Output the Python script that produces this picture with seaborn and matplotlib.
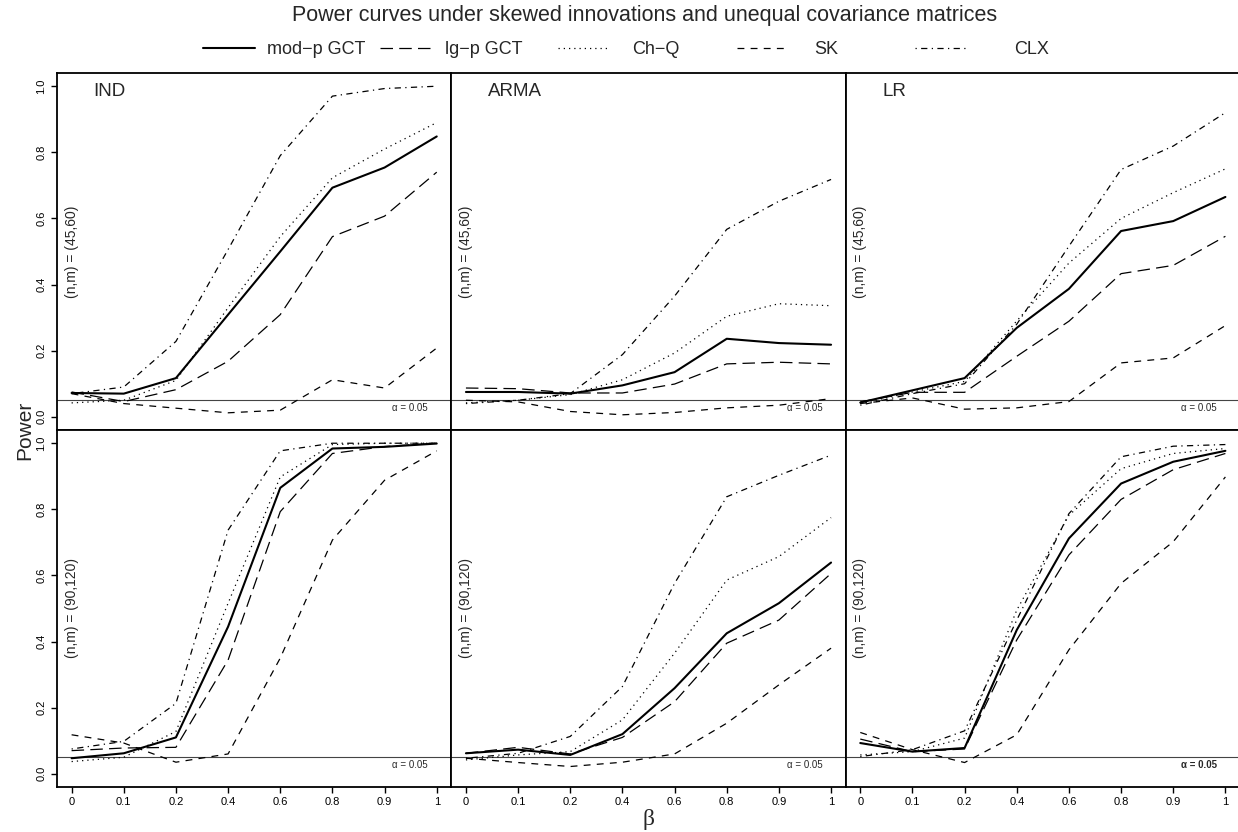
import numpy as np
import pandas as pd
import matplotlib
matplotlib.use("Agg")
import matplotlib.pyplot as plt
import seaborn as sns
from matplotlib.lines import Line2D

# ---------------- data ----------------
beta_labels = ["0", "0.1", "0.2", "0.4", "0.6", "0.8", "0.9", "1"]
methods = ["mod\u2212p GCT", "lg\u2212p GCT", "Ch\u2212Q", "SK", "CLX"]
structures = ["IND", "ARMA", "LR"]
size_labels = ["(n,m) = (45,60)", "(n,m) = (90,120)"]

# (n,m) = (45,60)
ind_45_modp = [0.072, 0.070, 0.117, 0.309, 0.500, 0.693, 0.754, 0.848]
ind_45_lgp  = [0.075, 0.046, 0.082, 0.168, 0.309, 0.545, 0.607, 0.740]
ind_45_chq  = [0.042, 0.050, 0.110, 0.330, 0.545, 0.723, 0.810, 0.890]
ind_45_sk   = [0.070, 0.040, 0.026, 0.012, 0.020, 0.112, 0.087, 0.208]
ind_45_clx  = [0.070, 0.090, 0.228, 0.506, 0.790, 0.970, 0.993, 1.000]

arma_45_modp = [0.075, 0.075, 0.070, 0.095, 0.135, 0.236, 0.223, 0.218]
arma_45_lgp  = [0.087, 0.085, 0.072, 0.072, 0.099, 0.160, 0.165, 0.160]
arma_45_chq  = [0.042, 0.050, 0.067, 0.112, 0.193, 0.304, 0.342, 0.336]
arma_45_sk   = [0.050, 0.045, 0.016, 0.006, 0.013, 0.027, 0.035, 0.055]
arma_45_clx  = [0.040, 0.050, 0.070, 0.188, 0.365, 0.567, 0.652, 0.718]

lr_45_modp = [0.043, 0.080, 0.117, 0.269, 0.387, 0.562, 0.592, 0.665]
lr_45_lgp  = [0.045, 0.074, 0.074, 0.183, 0.289, 0.433, 0.458, 0.546]
lr_45_chq  = [0.040, 0.075, 0.107, 0.290, 0.465, 0.600, 0.678, 0.750]
lr_45_sk   = [0.040, 0.057, 0.023, 0.027, 0.046, 0.163, 0.178, 0.276]
lr_45_clx  = [0.035, 0.070, 0.100, 0.280, 0.516, 0.748, 0.819, 0.920]

# (n,m) = (90,120)
ind_90_modp = [0.047, 0.062, 0.110, 0.445, 0.865, 0.984, 0.989, 0.999]
ind_90_lgp  = [0.070, 0.078, 0.080, 0.344, 0.793, 0.969, 0.990, 1.000]
ind_90_chq  = [0.037, 0.050, 0.128, 0.516, 0.898, 0.996, 1.000, 1.000]
ind_90_sk   = [0.118, 0.093, 0.035, 0.060, 0.350, 0.707, 0.888, 0.977]
ind_90_clx  = [0.075, 0.098, 0.213, 0.737, 0.977, 1.000, 1.000, 1.000]

arma_90_modp = [0.062, 0.073, 0.057, 0.120, 0.259, 0.425, 0.516, 0.639]
arma_90_lgp  = [0.062, 0.080, 0.060, 0.110, 0.218, 0.395, 0.465, 0.606]
arma_90_chq  = [0.042, 0.057, 0.067, 0.163, 0.365, 0.586, 0.657, 0.775]
arma_90_sk   = [0.047, 0.034, 0.022, 0.035, 0.060, 0.153, 0.269, 0.380]
arma_90_clx  = [0.047, 0.062, 0.113, 0.264, 0.576, 0.838, 0.903, 0.964]

lr_90_modp = [0.093, 0.067, 0.078, 0.435, 0.712, 0.878, 0.944, 0.977]
lr_90_lgp  = [0.105, 0.067, 0.075, 0.405, 0.662, 0.830, 0.920, 0.969]
lr_90_chq  = [0.057, 0.067, 0.108, 0.495, 0.782, 0.923, 0.969, 0.984]
lr_90_sk   = [0.125, 0.073, 0.034, 0.118, 0.375, 0.576, 0.702, 0.898]
lr_90_clx  = [0.052, 0.073, 0.130, 0.465, 0.787, 0.959, 0.991, 0.996]

alpha_level = 0.05

panels = {
    (0, "IND"):  [ind_45_modp, ind_45_lgp, ind_45_chq, ind_45_sk, ind_45_clx],
    (0, "ARMA"): [arma_45_modp, arma_45_lgp, arma_45_chq, arma_45_sk, arma_45_clx],
    (0, "LR"):   [lr_45_modp, lr_45_lgp, lr_45_chq, lr_45_sk, lr_45_clx],
    (1, "IND"):  [ind_90_modp, ind_90_lgp, ind_90_chq, ind_90_sk, ind_90_clx],
    (1, "ARMA"): [arma_90_modp, arma_90_lgp, arma_90_chq, arma_90_sk, arma_90_clx],
    (1, "LR"):   [lr_90_modp, lr_90_lgp, lr_90_chq, lr_90_sk, lr_90_clx],
}

rows = []
for (r, s), series in panels.items():
    for m, vals in zip(methods, series):
        for i, v in enumerate(vals):
            rows.append({"row": r, "structure": s, "method": m, "xi": i, "power": v})
df = pd.DataFrame(rows)

# ---------------- styles ----------------
line_styles = {
    methods[0]: dict(linestyle="-", lw=1.5),
    methods[1]: dict(linestyle=(0, (10, 5)), lw=0.9),
    methods[2]: dict(linestyle=(0, (1, 3.2)), lw=0.9),
    methods[3]: dict(linestyle=(0, (5.5, 5)), lw=0.9),
    methods[4]: dict(linestyle=(0, (1, 3.5, 5, 3.5)), lw=0.9),
}

sns.set_theme(style="white")
plt.rcParams["font.family"] = ["Liberation Sans", "DejaVu Sans"]
plt.rcParams["axes.edgecolor"] = "black"
plt.rcParams["axes.linewidth"] = 1.3
plt.rcParams["xtick.color"] = "black"
plt.rcParams["ytick.color"] = "black"

fig, axes = plt.subplots(2, 3, figsize=(12.38, 8.32), dpi=100, sharex=True, sharey=True)
fig.subplots_adjust(left=57 / 1238, right=1240 / 1238, top=1 - 73 / 832,
                    bottom=1 - 787 / 832, wspace=0, hspace=0)

for r in range(2):
    for c, s in enumerate(structures):
        ax = axes[r, c]
        sub = df[(df["row"] == r) & (df["structure"] == s)]
        for m in methods:
            d = sub[sub["method"] == m]
            sns.lineplot(data=d, x="xi", y="power", ax=ax, color="black",
                         estimator=None, sort=False, legend=False,
                         **line_styles[m])
        ax.axhline(alpha_level, color="#444444", lw=0.8, zorder=0)
        ax.set_xlim(-0.28, 7.28)
        ax.set_ylim(-0.04, 1.04)
        ax.set_xlabel("")
        ax.set_ylabel("")
        ax.set_xticks(range(len(beta_labels)))
        ax.set_yticks([0, 0.2, 0.4, 0.6, 0.8, 1.0])
        ax.tick_params(axis="both", which="both", direction="out", length=4.5,
                       width=1.0, labelsize=8, bottom=(r == 1), left=(c == 0),
                       labelbottom=(r == 1), labelleft=(c == 0), pad=3)
        if r == 1:
            ax.set_xticklabels(beta_labels)
        if c == 0:
            ax.set_yticklabels(["0.0", "0.2", "0.4", "0.6", "0.8", "1.0"],
                               rotation=90, va="center")
        for sp in ax.spines.values():
            sp.set_color("black")
            sp.set_linewidth(1.3)
        if r == 0:
            ax.text(0.42, 0.985, s, fontsize=13.5, ha="left", va="center")
        ax.text(0.0, 0.5, size_labels[r], rotation=90, fontsize=10,
                ha="center", va="center")
        ax.text(6.49, 0.026, "\u03b1 = 0.05", fontsize=7, ha="center", va="center",
                fontweight=("bold" if (r == 1 and c == 2) else "normal"))

# legend: one entry per method, placed in a row
leg_x = [203, 380, 558, 737, 915]
leg_pad = [0.65, 0.7, 1.2, 1.4, 2.6]
for m, x, p in zip(methods, leg_x, leg_pad):
    h = Line2D([], [], color="black", **line_styles[m])
    fig.legend(handles=[h], labels=[m], loc="center left",
               bbox_to_anchor=(x / 1238, 1 - 50 / 832), frameon=False,
               borderpad=0, borderaxespad=0, handlelength=2.9,
               handletextpad=p, fontsize=13)

fig.text(645 / 1238, 1 - 15 / 832,
         "Power curves under skewed innovations and unequal covariance matrices",
         ha="center", va="center", fontsize=15.5)
fig.text(25 / 1238, 1 - 430 / 832, "Power", rotation=90, ha="center",
         va="center", fontsize=15)
fig.text(649 / 1238, 1 - 819 / 832, "\u03b2", ha="center", va="center",
         fontsize=17, family=["Liberation Serif", "DejaVu Serif"])

fig.savefig("out.png", dpi=100)
